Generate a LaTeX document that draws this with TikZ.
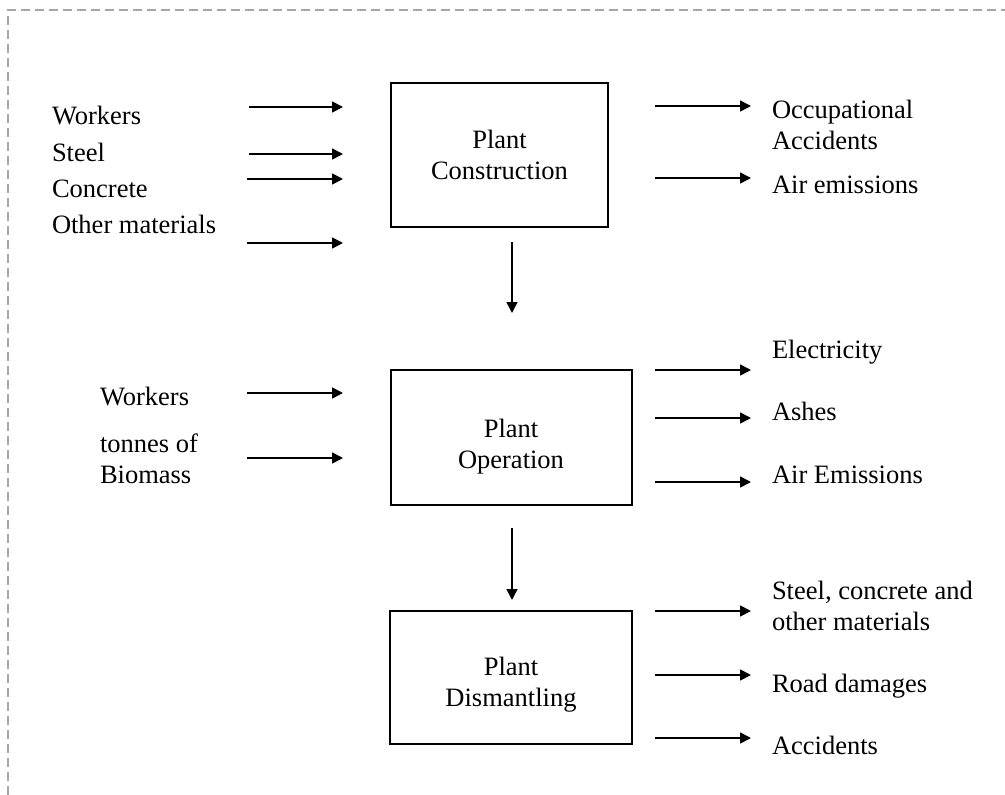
\documentclass[tikz,border=0pt]{standalone}
\usepackage{fontspec}
\setmainfont{Liberation Serif}
\usetikzlibrary{arrows.meta}
% stacked lines whose reference point is the baseline of the first line
\newcommand{\leftlines}[1]{\begin{tabular}[t]{@{}l@{}}#1\end{tabular}}
\newcommand{\midlines}[1]{\begin{tabular}[t]{@{}c@{}}#1\end{tabular}}
\definecolor{frame}{HTML}{A6A6A6}
\begin{document}
\begin{tikzpicture}[x=1pt,y=-1pt,
  every node/.style={font=\fontsize{26.5}{31}\selectfont, inner sep=0pt, outer sep=0pt},
  stage/.style={draw, line width=1.7pt, anchor=north west},
  txt/.style={anchor=base west},
  boxtxt/.style={anchor=base},
  flow/.style={line width=1.7pt, -{Triangle[length=11pt,width=11pt]}},
  border/.style={draw=frame, line width=1.5pt, dash pattern=on 9pt off 5pt}]
\useasboundingbox (0,0) rectangle (1005,795);
\renewcommand{\arraystretch}{1}

% dashed frame
\draw[border] (8,795) -- (8,10) -- (1005,10);

% stage boxes
\node[stage, minimum width=217pt, minimum height=144pt] (c1) at (391,83) {};
\node[stage, minimum width=241pt, minimum height=135pt] (c2) at (391,370) {};
\node[stage, minimum width=242pt, minimum height=133pt] (c3) at (390,611) {};

\node[boxtxt] (c1t) at (499.5,148) {\midlines{Plant\\Construction}};
\node[boxtxt] (c2t) at (511,437) {\midlines{Plant\\Operation}};
\node[boxtxt] (c3t) at (511,675) {\midlines{Plant\\Dismantling}};

% inputs of the construction stage
\node[txt] (i1) at (52,124) {Workers};
\node[txt] (i2) at (52,161) {Steel};
\node[txt] (i3) at (52,197) {Concrete};
\node[txt] (i4) at (52,233) {Other materials};
\coordinate (i1a) at (249,107); \coordinate (i1b) at (343,107);
\coordinate (i2a) at (249,154); \coordinate (i2b) at (343,154);
\coordinate (i3a) at (247,179); \coordinate (i3b) at (343,179);
\coordinate (i4a) at (247,243); \coordinate (i4b) at (343,243);
\draw[flow] (i1a) -- (i1b);
\draw[flow] (i2a) -- (i2b);
\draw[flow] (i3a) -- (i3b);
\draw[flow] (i4a) -- (i4b);

% outputs of the construction stage
\node[txt] (o1) at (772,118) {\leftlines{Occupational\\Accidents}};
\node[txt] (o2) at (772,193) {Air emissions};
\coordinate (o1a) at (655,106); \coordinate (o1b) at (751,106);
\coordinate (o2a) at (655,178); \coordinate (o2b) at (751,178);
\draw[flow] (o1a) -- (o1b);
\draw[flow] (o2a) -- (o2b);

% construction -> operation
\coordinate (d1a) at (512,242); \coordinate (d1b) at (512,313);
\draw[flow] (d1a) -- (d1b);

% inputs of the operation stage
\node[txt] (j1) at (100,405) {Workers};
\node[txt] (j2) at (100,452) {\leftlines{tonnes of\\Biomass}};
\coordinate (j1a) at (247,393); \coordinate (j1b) at (343,393);
\coordinate (j2a) at (247,458); \coordinate (j2b) at (343,458);
\draw[flow] (j1a) -- (j1b);
\draw[flow] (j2a) -- (j2b);

% outputs of the operation stage
\node[txt] (p1) at (772,358) {Electricity};
\node[txt] (p2) at (772,420) {Ashes};
\node[txt] (p3) at (772,483) {Air Emissions};
\coordinate (p1a) at (655,370); \coordinate (p1b) at (751,370);
\coordinate (p2a) at (655,418); \coordinate (p2b) at (751,418);
\coordinate (p3a) at (655,482); \coordinate (p3b) at (751,482);
\draw[flow] (p1a) -- (p1b);
\draw[flow] (p2a) -- (p2b);
\draw[flow] (p3a) -- (p3b);

% operation -> dismantling
\coordinate (d2a) at (512,528); \coordinate (d2b) at (512,600);
\draw[flow] (d2a) -- (d2b);

% outputs of the dismantling stage
\node[txt] (q1) at (772,599) {\leftlines{Steel, concrete and\\other materials}};
\node[txt] (q2) at (772,692) {Road damages};
\node[txt] (q3) at (772,754) {Accidents};
\coordinate (q1a) at (655,611); \coordinate (q1b) at (751,611);
\coordinate (q2a) at (655,675); \coordinate (q2b) at (751,675);
\coordinate (q3a) at (655,738); \coordinate (q3b) at (751,738);
\draw[flow] (q1a) -- (q1b);
\draw[flow] (q2a) -- (q2b);
\draw[flow] (q3a) -- (q3b);
\end{tikzpicture}
\end{document}
